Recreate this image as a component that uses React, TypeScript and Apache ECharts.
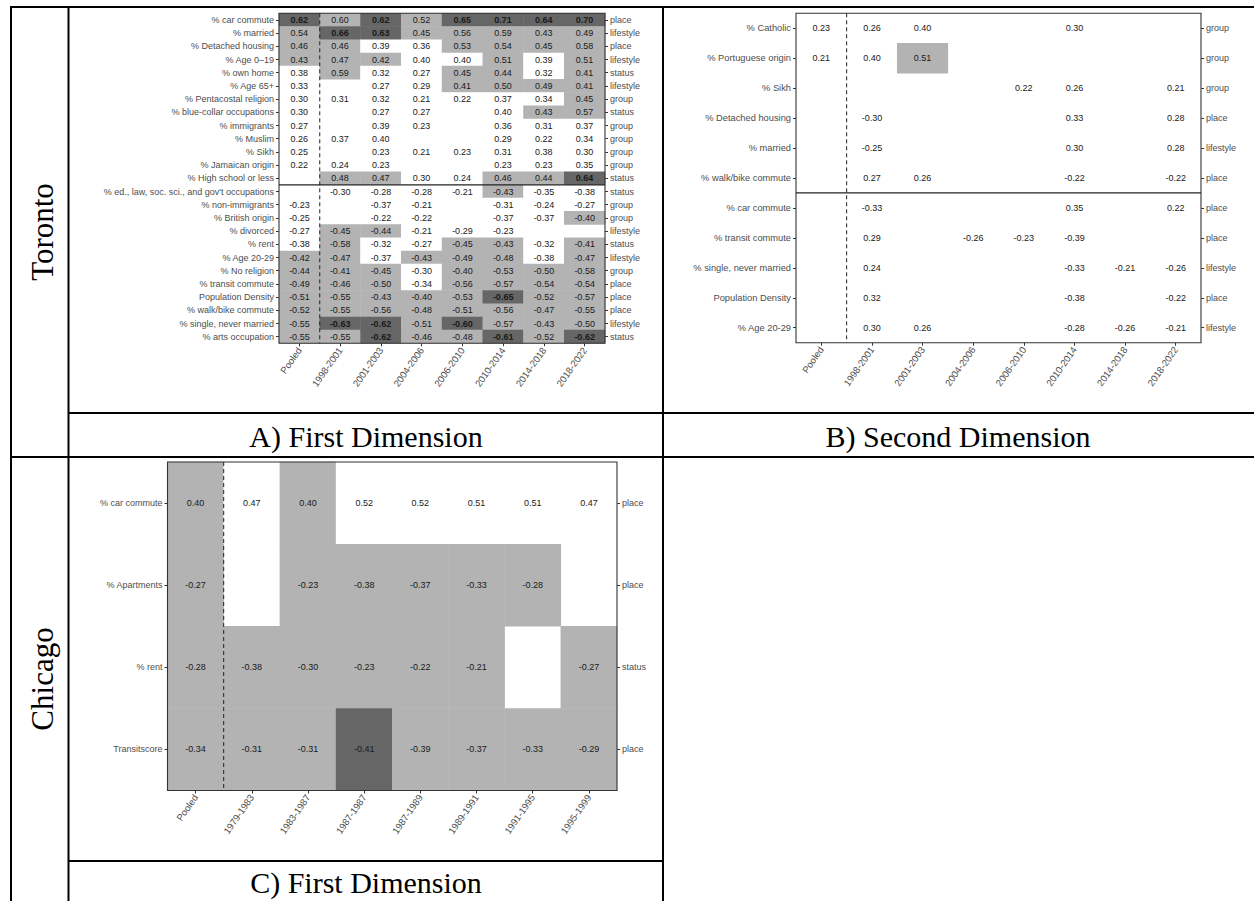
import React, { useEffect, useRef } from "react";
import * as echarts from "echarts";

// ---------------- DATA ----------------
const torontoPeriods = ["Pooled", "1998-2001", "2001-2003", "2004-2006", "2006-2010", "2010-2014", "2014-2018", "2018-2022"];
const chicagoPeriods = ["Pooled", "1979-1983", "1983-1987", "1987-1987", "1987-1989", "1989-1991", "1991-1995", "1995-1999"];

// A) Toronto, first dimension
const dim1Vars = [
  "% car commute", "% married", "% Detached housing", "% Age 0\u201319", "% own home", "% Age 65+",
  "% Pentacostal religion", "% blue-collar occupations", "% immigrants", "% Muslim", "% Sikh",
  "% Jamaican origin", "% High school or less", "% ed., law, soc. sci., and gov't occupations",
  "% non-immigrants", "% British origin", "% divorced", "% rent", "% Age 20-29", "% No religion",
  "% transit commute", "Population Density", "% walk/bike commute", "% single, never married", "% arts occupation",
];
const dim1Types = [
  "place", "lifestyle", "place", "lifestyle", "status", "lifestyle", "group", "status", "group", "group",
  "group", "group", "status", "status", "group", "group", "lifestyle", "status", "lifestyle", "group",
  "place", "place", "place", "lifestyle", "status",
];
const dim1Values: (number | null)[][] = [
  [0.62, 0.60, 0.62, 0.52, 0.65, 0.71, 0.64, 0.70],
  [0.54, 0.66, 0.63, 0.45, 0.56, 0.59, 0.43, 0.49],
  [0.46, 0.46, 0.39, 0.36, 0.53, 0.54, 0.45, 0.58],
  [0.43, 0.47, 0.42, 0.40, 0.40, 0.51, 0.39, 0.51],
  [0.38, 0.59, 0.32, 0.27, 0.45, 0.44, 0.32, 0.41],
  [0.33, null, 0.27, 0.29, 0.41, 0.50, 0.49, 0.41],
  [0.30, 0.31, 0.32, 0.21, 0.22, 0.37, 0.34, 0.45],
  [0.30, null, 0.27, 0.27, null, 0.40, 0.43, 0.57],
  [0.27, null, 0.39, 0.23, null, 0.36, 0.31, 0.37],
  [0.26, 0.37, 0.40, null, null, 0.29, 0.22, 0.34],
  [0.25, null, 0.23, 0.21, 0.23, 0.31, 0.38, 0.30],
  [0.22, 0.24, 0.23, null, null, 0.23, 0.23, 0.35],
  [null, 0.48, 0.47, 0.30, 0.24, 0.46, 0.44, 0.64],
  [null, -0.30, -0.28, -0.28, -0.21, -0.43, -0.35, -0.38],
  [-0.23, null, -0.37, -0.21, null, -0.31, -0.24, -0.27],
  [-0.25, null, -0.22, -0.22, null, -0.37, -0.37, -0.40],
  [-0.27, -0.45, -0.44, -0.21, -0.29, -0.23, null, null],
  [-0.38, -0.58, -0.32, -0.27, -0.45, -0.43, -0.32, -0.41],
  [-0.42, -0.47, -0.37, -0.43, -0.49, -0.48, -0.38, -0.47],
  [-0.44, -0.41, -0.45, -0.30, -0.40, -0.53, -0.50, -0.58],
  [-0.49, -0.46, -0.50, -0.34, -0.56, -0.57, -0.54, -0.54],
  [-0.51, -0.55, -0.43, -0.40, -0.53, -0.65, -0.52, -0.57],
  [-0.52, -0.55, -0.56, -0.48, -0.51, -0.56, -0.47, -0.55],
  [-0.55, -0.63, -0.62, -0.51, -0.60, -0.57, -0.43, -0.50],
  [-0.55, -0.55, -0.62, -0.46, -0.48, -0.61, -0.52, -0.62],
];
// 0 = no fill, 1 = light grey, 2 = dark grey
const dim1Shade: number[][] = [
  [2, 1, 2, 1, 2, 2, 2, 2],
  [1, 2, 2, 1, 1, 1, 1, 1],
  [1, 1, 0, 0, 1, 1, 1, 1],
  [1, 1, 1, 0, 0, 1, 0, 1],
  [0, 1, 0, 0, 1, 1, 0, 1],
  [0, 0, 0, 0, 1, 1, 1, 1],
  [0, 0, 0, 0, 0, 0, 0, 1],
  [0, 0, 0, 0, 0, 0, 1, 1],
  [0, 0, 0, 0, 0, 0, 0, 0],
  [0, 0, 0, 0, 0, 0, 0, 0],
  [0, 0, 0, 0, 0, 0, 0, 0],
  [0, 0, 0, 0, 0, 0, 0, 0],
  [0, 1, 1, 0, 0, 1, 1, 2],
  [0, 0, 0, 0, 0, 1, 0, 0],
  [0, 0, 0, 0, 0, 0, 0, 0],
  [0, 0, 0, 0, 0, 0, 0, 1],
  [0, 1, 1, 0, 0, 0, 0, 0],
  [0, 1, 0, 0, 1, 1, 0, 1],
  [1, 1, 0, 1, 1, 1, 0, 1],
  [1, 1, 1, 0, 1, 1, 1, 1],
  [1, 1, 1, 0, 1, 1, 1, 1],
  [1, 1, 1, 1, 1, 2, 1, 1],
  [1, 1, 1, 1, 1, 1, 1, 1],
  [1, 2, 2, 1, 2, 1, 1, 1],
  [1, 1, 2, 1, 1, 2, 1, 2],
];
const dim1Split = 13;

// B) Toronto, second dimension
const dim2Vars = [
  "% Catholic", "% Portuguese origin", "% Sikh", "% Detached housing", "% married", "% walk/bike commute",
  "% car commute", "% transit commute", "% single, never married", "Population Density", "% Age 20-29",
];
const dim2Types = ["group", "group", "group", "place", "lifestyle", "place", "place", "place", "lifestyle", "place", "lifestyle"];
const dim2Values: (number | null)[][] = [
  [0.23, 0.26, 0.40, null, null, 0.30, null, null],
  [0.21, 0.40, 0.51, null, null, null, null, null],
  [null, null, null, null, 0.22, 0.26, null, 0.21],
  [null, -0.30, null, null, null, 0.33, null, 0.28],
  [null, -0.25, null, null, null, 0.30, null, 0.28],
  [null, 0.27, 0.26, null, null, -0.22, null, -0.22],
  [null, -0.33, null, null, null, 0.35, null, 0.22],
  [null, 0.29, null, -0.26, -0.23, -0.39, null, null],
  [null, 0.24, null, null, null, -0.33, -0.21, -0.26],
  [null, 0.32, null, null, null, -0.38, null, -0.22],
  [null, 0.30, 0.26, null, null, -0.28, -0.26, -0.21],
];
const dim2Shade: number[][] = [
  [0, 0, 0, 0, 0, 0, 0, 0],
  [0, 0, 1, 0, 0, 0, 0, 0],
  [0, 0, 0, 0, 0, 0, 0, 0],
  [0, 0, 0, 0, 0, 0, 0, 0],
  [0, 0, 0, 0, 0, 0, 0, 0],
  [0, 0, 0, 0, 0, 0, 0, 0],
  [0, 0, 0, 0, 0, 0, 0, 0],
  [0, 0, 0, 0, 0, 0, 0, 0],
  [0, 0, 0, 0, 0, 0, 0, 0],
  [0, 0, 0, 0, 0, 0, 0, 0],
  [0, 0, 0, 0, 0, 0, 0, 0],
];
const dim2Split = 6;

// C) Chicago, first dimension
const chiVars = ["% car commute", "% Apartments", "% rent", "Transitscore"];
const chiTypes = ["place", "place", "status", "place"];
const chiValues: (number | null)[][] = [
  [0.40, 0.47, 0.40, 0.52, 0.52, 0.51, 0.51, 0.47],
  [-0.27, null, -0.23, -0.38, -0.37, -0.33, -0.28, null],
  [-0.28, -0.38, -0.30, -0.23, -0.22, -0.21, null, -0.27],
  [-0.34, -0.31, -0.31, -0.41, -0.39, -0.37, -0.33, -0.29],
];
const chiShade: number[][] = [
  [1, 0, 1, 0, 0, 0, 0, 0],
  [1, 0, 1, 1, 1, 1, 1, 0],
  [1, 1, 1, 1, 1, 1, 0, 1],
  [1, 1, 1, 2, 1, 1, 1, 1],
];

const rowTitles = ["Toronto", "Chicago"];
const panelTitles = ["A) First Dimension", "B) Second Dimension", "C) First Dimension"];

// ---------------- STYLE / LAYOUT ----------------
const SANS = "'Liberation Sans', Arial, Helvetica, sans-serif";
const SERIF = "'Liberation Serif', 'Times New Roman', Times, serif";
const FILL = ["#ffffff", "#b3b3b3", "#666666"];
const AXIS_TEXT = "#4d4d4d";
const FRAME = "#333333";

type Geom = { left: number; top: number; width: number; height: number };
const geomA: Geom = { left: 279, top: 13.3, width: 326, height: 330 };
const geomB: Geom = { left: 796, top: 13.3, width: 405, height: 329.4 };
const geomC: Geom = { left: 167.5, top: 462, width: 449.5, height: 328.5 };

function buildPanel(
  i: number, g: Geom, xs: string[], ys: string[], types: string[],
  vals: (number | null)[][], shade: number[][], split: number | null, boldDark: boolean,
  yFont: number
) {
  const grid = { left: g.left, top: g.top, width: g.width, height: g.height, containLabel: false };
  const tick = { show: true, alignWithLabel: true, length: 3, lineStyle: { color: FRAME, width: 1 } };
  const lab = { fontSize: 9, color: AXIS_TEXT, fontFamily: SANS, interval: 0 };
  const xAxis = {
    type: "category", gridIndex: i, data: xs, position: "bottom",
    axisLine: { show: false }, axisTick: tick, splitLine: { show: false },
    axisLabel: { ...lab, fontSize: 9.5, rotate: 55, margin: 5 },
  };
  const yLeft = {
    type: "category", gridIndex: i, data: ys, inverse: true, position: "left",
    axisLine: { show: false }, axisTick: tick, splitLine: { show: false },
    axisLabel: { ...lab, fontSize: yFont, margin: 5 },
  };
  const yRight = {
    type: "category", gridIndex: i, data: types, inverse: true, position: "right",
    axisLine: { show: false }, axisTick: tick, splitLine: { show: false },
    axisLabel: { ...lab, margin: 5 },
  };
  const data: any[] = [];
  vals.forEach((row, r) =>
    row.forEach((v, c) => {
      if (v === null) return;
      const s = shade[r][c];
      data.push({
        value: [c, r, v, s],
        label: { fontWeight: boldDark && s === 2 ? "bold" : "normal" },
      });
    })
  );
  const series = {
    type: "heatmap", xAxisIndex: i, yAxisIndex: 2 * i, data,
    label: {
      show: true, fontSize: 9, color: "#1a1a1a", fontFamily: SANS,
      formatter: (p: any) => Number(p.value[2]).toFixed(2),
    },
    itemStyle: { borderWidth: 0 },
    emphasis: { disabled: true },
  };
  const colW = g.width / xs.length;
  const rowH = g.height / ys.length;
  const graphics: any[] = [
    {
      type: "rect", z: 100,
      shape: { x: g.left, y: g.top, width: g.width, height: g.height },
      style: { fill: "none", stroke: FRAME, lineWidth: 1.1 },
    },
    {
      type: "line", z: 100,
      shape: { x1: g.left + colW, y1: g.top, x2: g.left + colW, y2: g.top + g.height },
      style: { stroke: "#222", lineWidth: 1, lineDash: [4, 3] },
    },
  ];
  if (split !== null) {
    graphics.push({
      type: "line", z: 100,
      shape: { x1: g.left, y1: g.top + split * rowH, x2: g.left + g.width, y2: g.top + split * rowH },
      style: { stroke: "#222", lineWidth: 1.3 },
    });
  }
  return { grid, xAxis, yAxes: [yLeft, yRight], series, graphics };
}

function tableGraphics() {
  const L = (x1: number, y1: number, x2: number, y2: number, w = 2) => ({
    type: "line", z: 50, shape: { x1, y1, x2, y2 }, style: { stroke: "#000", lineWidth: w },
  });
  const T = (text: string, x: number, y: number, size: number, rot = 0) => ({
    type: "text", z: 50, x, y, rotation: rot,
    style: {
      text, font: `${size}px ${SERIF}`, fill: "#000",
      textAlign: "center", textVerticalAlign: "middle", align: "center", verticalAlign: "middle",
    },
  });
  return [
    L(10, 7, 1254, 7),
    L(11, 6, 11, 901),
    L(68.5, 6, 68.5, 901),
    L(663, 6, 663, 901),
    L(68, 413, 1254, 413),
    L(10, 457, 1254, 457),
    L(68, 861, 663, 861),
    T(rowTitles[0], 42, 232, 31, Math.PI / 2),
    T(rowTitles[1], 42, 679, 31, Math.PI / 2),
    T(panelTitles[0], 366, 436, 30),
    T(panelTitles[1], 958, 436, 30),
    T(panelTitles[2], 366, 882, 30),
  ];
}

export default function App() {
  const ref = useRef<HTMLDivElement>(null);
  useEffect(() => {
    if (!ref.current) return;
    const chart = echarts.init(ref.current, undefined, { renderer: "svg" });
    const pA = buildPanel(0, geomA, torontoPeriods, dim1Vars, dim1Types, dim1Values, dim1Shade, dim1Split, true, 9);
    const pB = buildPanel(1, geomB, torontoPeriods, dim2Vars, dim2Types, dim2Values, dim2Shade, dim2Split, true, 9.3);
    const pC = buildPanel(2, geomC, chicagoPeriods, chiVars, chiTypes, chiValues, chiShade, null, false, 9);
    const panels = [pA, pB, pC];
    chart.setOption({
      animation: false,
      backgroundColor: "#ffffff",
      textStyle: { fontFamily: SANS },
      visualMap: {
        type: "piecewise", show: false, dimension: 3, seriesIndex: [0, 1, 2],
        pieces: [
          { value: 0, color: FILL[0] },
          { value: 1, color: FILL[1] },
          { value: 2, color: FILL[2] },
        ],
      },
      grid: panels.map((p) => p.grid),
      xAxis: panels.map((p) => p.xAxis),
      yAxis: panels.flatMap((p) => p.yAxes),
      series: panels.map((p) => p.series),
      graphic: { elements: [...tableGraphics(), ...panels.flatMap((p) => p.graphics)] },
    });
    return () => chart.dispose();
  }, []);
  return (
    <div
      ref={ref}
      style={{ position: "absolute", left: 0, top: 0, width: 1254, height: 901, background: "#fff" }}
    />
  );
}
